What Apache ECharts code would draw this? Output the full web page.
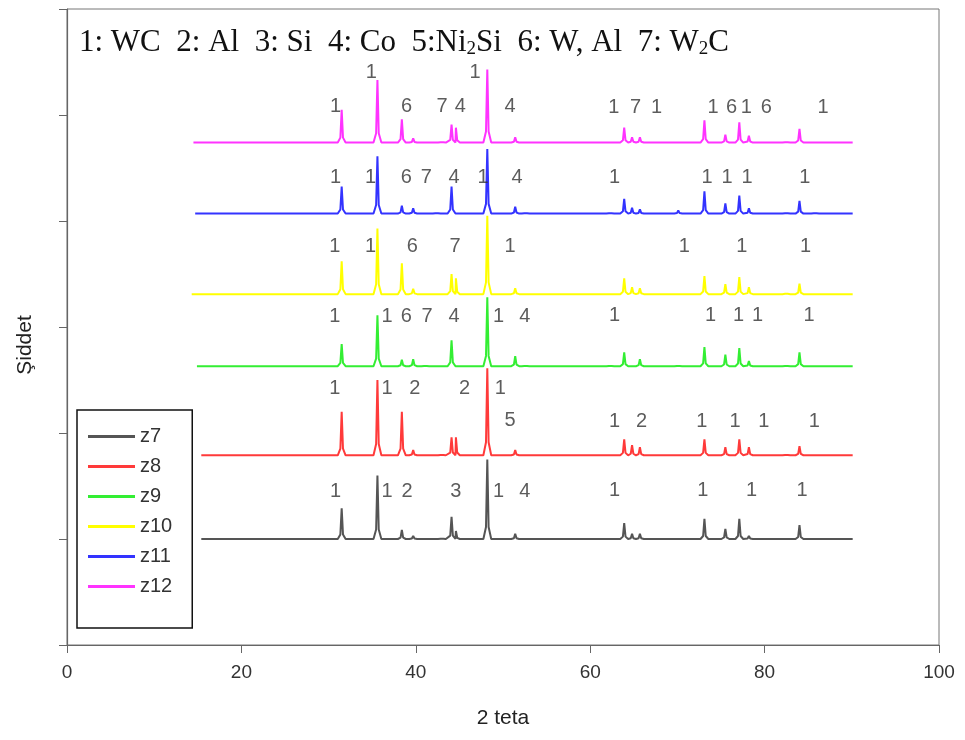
<!DOCTYPE html>
<html>
<head>
<meta charset="utf-8">
<script src="https://cdn.jsdelivr.net/npm/echarts@6/dist/echarts.min.js"></script>
<style>
html,body{margin:0;padding:0;background:#fff;}
#chart{width:965px;height:740px;}
</style>
</head>
<body>
<div id="chart"></div>
<script>
// ---- data ----
const sampleNames = ['z7', 'z8', 'z9', 'z10', 'z11', 'z12'];
const sampleColors = ['#555555', '#ff3a3a', '#33ee33', '#ffff00', '#3333ff', '#ff33ff'];
// vertical offset of each pattern (intensity units, 100 per y tick)
const baselines = [100, 179, 263, 331, 407, 474];
const scanStart = [15.4, 15.4, 14.9, 14.3, 14.7, 14.5];
const scanEnd = [90.1, 90.1, 90.1, 90.1, 90.1, 90.1];

// peaks: [2theta, intensity above baseline]
const peaksZ7 = [[31.5,29],[35.6,60],[38.4,8.5],[39.7,3],[43.0,1.5],[44.1,21],[44.6,7.5],[48.2,75],[51.4,5],
  [63.9,15],[64.8,5],[65.7,5],[73.1,19],[75.5,9.5],[77.1,19],[78.2,3],[84.0,13]];
const peaksZ8 = [[31.5,41],[35.6,71],[38.4,41],[39.7,5],[43.0,2],[44.1,17],[44.6,17],[48.2,82],[51.4,5],
  [63.9,15],[64.8,9.5],[65.7,7.5],[73.1,15],[75.5,7.5],[77.1,15],[78.2,7.5],[82.5,2],[84.0,8.5]];
const peaksZ9 = [[31.5,21],[35.6,48],[38.4,6],[39.7,6.5],[41.1,2],[44.1,24.5],[48.2,65],[51.4,9.5],[52.6,2],
  [62.3,2],[63.9,13],[65.7,6.5],[70.1,2],[73.1,18],[75.5,11],[77.1,17],[78.2,5],[82.5,2],[84.0,13]];
const peaksZ10 = [[31.5,31],[35.6,62],[38.4,29],[39.7,5],[44.1,19],[44.6,15],[48.2,74],[51.4,5.5],
  [63.9,15],[64.8,6.5],[65.7,5.5],[73.1,17],[75.5,9.5],[77.1,16],[78.2,6.5],[82.5,2],[84.0,10]];
const peaksZ11 = [[31.5,25.5],[35.6,54],[38.4,7.5],[39.7,5],[42.4,2],[44.1,25.5],[48.2,61],[51.4,6.5],[52.6,2],
  [62.3,2],[63.9,14],[64.8,5.5],[65.7,4],[70.1,3],[73.1,21],[75.5,9.5],[77.1,17],[78.2,5],[82.5,2],[84.0,12],[85.8,2]];
const peaksZ12 = [[31.5,31],[35.6,59],[38.4,22],[39.7,4],[43.0,2],[44.1,17],[44.6,14],[48.2,69],[51.4,5],
  [63.9,14],[64.8,5],[65.7,5],[73.1,21],[75.5,7.5],[77.1,19],[78.2,6.5],[82.5,2],[84.0,13]];
const allPeaks = [peaksZ7, peaksZ8, peaksZ9, peaksZ10, peaksZ11, peaksZ12];

// phase labels: [2theta, intensity position, text]
const labelsZ7 = [[30.8,145,'1'],[36.7,145,'1'],[39.0,145,'2'],[44.6,145,'3'],[49.5,145,'1'],[52.5,145,'4'],
  [62.8,146,'1'],[72.9,146,'1'],[78.5,146,'1'],[84.3,146,'1']];
const labelsZ8 = [[30.7,242,'1'],[36.7,242,'1'],[39.9,242,'2'],[45.6,242,'2'],[49.7,242,'1'],[50.8,212,'5'],
  [62.8,211,'1'],[65.9,211,'2'],[72.8,211,'1'],[76.6,211,'1'],[79.9,211,'1'],[85.7,211,'1']];
const labelsZ9 = [[30.7,310,'1'],[36.7,310,'1'],[38.9,310,'6'],[41.3,310,'7'],[44.4,310,'4'],[49.5,310,'1'],[52.5,310,'4'],
  [62.8,311,'1'],[73.8,311,'1'],[77.0,311,'1'],[79.2,311,'1'],[85.1,311,'1']];
const labelsZ10 = [[30.7,376,'1'],[34.8,376,'1'],[39.6,376,'6'],[44.5,376,'7'],[50.8,376,'1'],
  [70.8,376,'1'],[77.4,376,'1'],[84.7,376,'1']];
const labelsZ11 = [[30.8,441,'1'],[34.8,441,'1'],[38.9,441,'6'],[41.2,441,'7'],[44.4,441,'4'],[47.7,441,'1'],[51.6,441,'4'],
  [62.8,441,'1'],[73.4,441,'1'],[75.7,441,'1'],[78.0,441,'1'],[84.6,441,'1']];
const labelsZ12 = [[30.8,508,'1'],[34.9,540,'1'],[38.95,508,'6'],[43.0,508,'7'],[45.1,508,'4'],[46.8,540,'1'],[50.8,508,'4'],
  [62.7,507,'1'],[65.2,507,'7'],[67.6,507,'1'],[74.1,507,'1'],[76.2,507,'6'],[77.9,507,'1'],[80.2,507,'6'],[86.7,507,'1']];
const allLabels = [].concat(labelsZ7, labelsZ8, labelsZ9, labelsZ10, labelsZ11, labelsZ12);

const xTicks = [0, 20, 40, 60, 80, 100];
const phaseKey = '1: WC  2: Al  3: Si  4: Co  5:Ni{s|2}Si  6: W, Al  7: W{s|2}C';

// ---- build pattern vertices from the peak tables ----
function buildPattern(i) {
  const base = baselines[i];
  const pts = [[scanStart[i], base]];
  const push = (x, y) => { if (x > pts[pts.length - 1][0]) pts.push([x, y]); };
  allPeaks[i].forEach(([x, h]) => {
    push(x - 0.45, base);
    push(x - 0.15, base + h * 0.15);
    push(x, base + h);
    push(x + 0.15, base + h * 0.15);
    push(x + 0.45, base);
  });
  push(scanEnd[i], base);
  return pts;
}

const chart = echarts.init(document.getElementById('chart'), null, {renderer: 'canvas'});
const lineSeries = sampleNames.map((name, i) => ({
  name: name,
  type: 'line',
  data: buildPattern(i),
  symbol: 'none',
  smooth: false,
  lineStyle: {color: sampleColors[i], width: 2},
  itemStyle: {color: sampleColors[i]},
  z: 2 + i,
  animation: false
}));

const option = {
  animation: false,
  backgroundColor: '#fff',
  title: {
    left: 74, top: 22,
    text: phaseKey,
    textStyle: {
      fontFamily: 'Liberation Serif', fontSize: 31, fontWeight: 'normal', color: '#111',
      rich: {s: {fontFamily: 'Liberation Serif', fontSize: 19, color: '#111', padding: [13, 0, 0, 0]}}
    }
  },
  grid: {left: 67, right: 26, top: 9, bottom: 95, show: true, borderColor: '#777', borderWidth: 1, backgroundColor: 'transparent'},
  legend: {
    data: sampleNames,
    orient: 'vertical',
    icon: 'rect',
    left: 77, top: 410,
    itemWidth: 47, itemHeight: 3, itemGap: 9,
    padding: [16, 20, 31, 11],
    borderColor: '#111', borderWidth: 1.5,
    textStyle: {fontFamily: 'Liberation Sans Narrow, Liberation Sans', fontSize: 20, lineHeight: 21, color: '#333'}
  },
  xAxis: {
    type: 'value', min: xTicks[0], max: xTicks[xTicks.length - 1], interval: 20,
    name: '2 teta', nameLocation: 'middle', nameGap: 63,
    nameTextStyle: {fontFamily: 'Liberation Sans', fontSize: 21, color: '#222'},
    axisLine: {show: true, lineStyle: {color: '#666', width: 1.2}},
    axisTick: {show: true, inside: false, length: 8, lineStyle: {color: '#666'}},
    axisLabel: {margin: 18, fontFamily: 'Liberation Sans Narrow, Liberation Sans', fontSize: 19, color: '#333'},
    splitLine: {show: false}
  },
  yAxis: {
    type: 'value', min: 0, max: 600, interval: 100,
    name: 'Şiddet', nameLocation: 'middle', nameGap: 31,
    nameTextStyle: {fontFamily: 'Liberation Sans', fontSize: 21, color: '#222', padding: [0, 36, 0, 0]},
    axisLine: {show: true, lineStyle: {color: '#666', width: 1.2}},
    axisTick: {show: true, inside: false, length: 8, lineStyle: {color: '#666'}},
    axisLabel: {show: false},
    splitLine: {show: false}
  },
  series: lineSeries.concat([{
    name: 'phases',
    type: 'scatter',
    data: allLabels.map(d => ({value: [d[0], d[1]], label: {formatter: d[2]}})),
    symbolSize: 0,
    silent: true,
    z: 10,
    label: {show: true, position: 'inside', fontFamily: 'Liberation Sans', fontSize: 20, color: '#333'},
    animation: false
  }])
};
chart.setOption(option);
</script>
</body>
</html>
